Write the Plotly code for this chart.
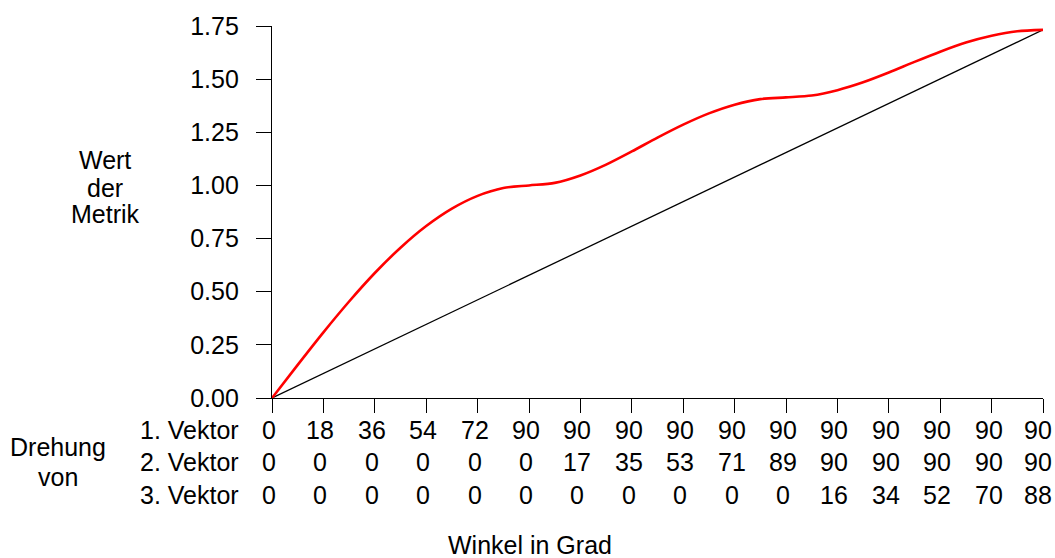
import plotly.graph_objects as go

# Angle axis (degrees of total rotation) and metric value read at 9° steps
winkel = [0, 9, 18, 27, 36, 45, 54, 63, 72, 81,
          90, 99, 108, 117, 126, 135, 144, 153, 162, 171,
          180, 189, 198, 207, 216, 225, 234, 243, 252, 261, 270]
metrik = [0.000, 0.156, 0.309, 0.454, 0.588, 0.707, 0.809, 0.891, 0.951, 0.988,
          1.000, 1.012, 1.047, 1.098, 1.160, 1.225, 1.286, 1.339, 1.380, 1.406,
          1.414, 1.423, 1.448, 1.485, 1.531, 1.581, 1.629, 1.672, 1.704, 1.725, 1.732]

# Straight reference line
linie_x = [0, 270]
linie_y = [0, 1.732]

# Tick positions and the three label rows beneath the axis
tick_pos = [0, 18, 36, 54, 72, 90, 108, 126, 144, 162, 180, 198, 216, 234, 252, 270]
vektor1 = [0, 18, 36, 54, 72, 90, 90, 90, 90, 90, 90, 90, 90, 90, 90, 90]
vektor2 = [0, 0, 0, 0, 0, 0, 17, 35, 53, 71, 89, 90, 90, 90, 90, 90]
vektor3 = [0, 0, 0, 0, 0, 0, 0, 0, 0, 0, 0, 16, 34, 52, 70, 88]
row_names = ["1. Vektor", "2. Vektor", "3. Vektor"]

y_ticks = [0, 0.25, 0.5, 0.75, 1.0, 1.25, 1.5, 1.75]

W, H = 1055, 558
L, R, T, B = 272, 12, 23, 160
pw, ph = W - L - R, H - T - B
FONT = "Liberation Sans, Arial, sans-serif"
FS = 25


def px_x(p):
    return (p - L) / pw


def px_y(p):
    return (H - B - p) / ph


fig = go.Figure()
fig.add_trace(go.Scatter(x=linie_x, y=linie_y, mode="lines",
                         line=dict(color="black", width=1.3), hoverinfo="skip"))
fig.add_trace(go.Scatter(x=winkel, y=metrik, mode="lines",
                         line=dict(color="#ff0000", width=2.6, shape="spline",
                                   smoothing=0.8),
                         hoverinfo="skip"))

ann = []
row_y = [430, 463, 496]
last = len(tick_pos) - 1
for rows, py, name in zip([vektor1, vektor2, vektor3], row_y, row_names):
    for i, (xv, lab) in enumerate(zip(tick_pos, rows)):
        ann.append(dict(x=xv, xref="x", y=px_y(py), yref="paper", text=str(lab),
                        showarrow=False, xanchor="center", yanchor="middle",
                        xshift=-5 if i == last else -3))
    ann.append(dict(x=px_x(241), xref="paper", y=px_y(py), yref="paper", text=name,
                    showarrow=False, xanchor="right", yanchor="middle"))

for txt, py in [("Drehung", 447), ("von", 478)]:
    ann.append(dict(x=px_x(58), xref="paper", y=px_y(py), yref="paper", text=txt,
                    showarrow=False, xanchor="center", yanchor="middle"))

for txt, py in [("Wert", 158), ("der", 186), ("Metrik", 213)]:
    ann.append(dict(x=px_x(105), xref="paper", y=px_y(py), yref="paper", text=txt,
                    showarrow=False, xanchor="center", yanchor="middle"))

ann.append(dict(x=px_x(530), xref="paper", y=px_y(546), yref="paper",
                text="Winkel in Grad", showarrow=False,
                xanchor="center", yanchor="middle"))

fig.update_layout(
    width=W, height=H,
    margin=dict(l=L, r=R, t=T, b=B),
    paper_bgcolor="white", plot_bgcolor="white",
    showlegend=False,
    font=dict(family=FONT, size=FS, color="black"),
    annotations=ann,
    xaxis=dict(range=[0, 270], tickvals=tick_pos, showticklabels=False,
               ticks="outside", ticklen=14, tickwidth=1.3, tickcolor="black",
               showline=True, linecolor="black", linewidth=1.3,
               showgrid=False, zeroline=False, fixedrange=True),
    yaxis=dict(range=[0, 1.75], tickvals=y_ticks, tickformat=".2f",
               ticks="outside", ticklen=15, tickwidth=1.3, tickcolor="black",
               ticklabelstandoff=12,
               showline=True, linecolor="black", linewidth=1.3,
               showgrid=False, zeroline=False, fixedrange=True),
)

fig.write_html("out.html", config={"displayModeBar": False})
